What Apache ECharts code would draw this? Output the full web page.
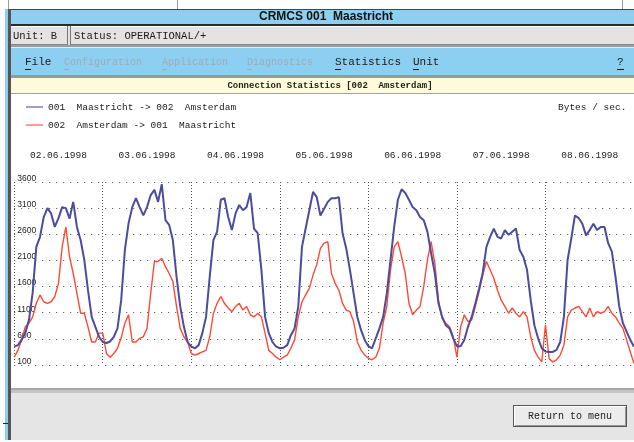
<!DOCTYPE html>
<html>
<head>
<meta charset="utf-8">
<script src="https://cdn.jsdelivr.net/npm/echarts@6/dist/echarts.min.js"></script>
<style>
  html, body { margin: 0; padding: 0; background: #fff; }
  #chart { width: 634px; height: 442px; }
</style>
</head>
<body>
<div id="chart"></div>
<script>
// dates shown above the plot, one per day
const days = ['02.06.1998', '03.06.1998', '04.06.1998', '05.06.1998', '06.06.1998', '07.06.1998', '08.06.1998']
const yTicks = [100, 600, 1100, 1600, 2100, 2600, 3100, 3600]

// hourly readings, Bytes / sec. (hour 0 .. 168)
const maastrichtToAmsterdam = [
  450, 480, 580, 710, 960, 1480, 2360, 2550, 2930, 3100, 3000, 2740, 2910, 3120, 3100, 2900, 3220, 2740, 2490, 2110, 1530, 1020, 830, 640,
  540, 520, 550, 640, 800, 1340, 2300, 2810, 3120, 3290, 3120, 2960, 3120, 3350, 3450, 3220, 3560, 2870, 2780, 2490, 1790, 1220, 830, 540,
  450, 420, 480, 710, 1020, 1790, 2490, 2650, 3260, 3290, 2930, 2680, 3000, 3160, 3060, 3120, 3390, 2710, 2620, 1920, 1020, 710, 540, 450,
  420, 430, 480, 670, 800, 1220, 2360, 2710, 3060, 3410, 3310, 2960, 3090, 3220, 3290, 3290, 3310, 2620, 2330, 1920, 1470, 1020, 770, 580,
  460, 420, 610, 800, 1020, 1470, 2110, 2740, 3260, 3460, 3390, 3260, 3120, 3060, 2930, 2870, 2650, 2240, 1860, 1280, 1020, 860, 800, 610,
  460, 460, 580, 830, 1020, 1280, 1560, 1860, 2360, 2550, 2710, 2550, 2520, 2680, 2590, 2650, 2710, 2300, 2170, 1920, 1340, 860, 610, 420,
  360, 350, 350, 390, 540, 1020, 2110, 2520, 2960, 2910, 2800, 2580, 2680, 2800, 2680, 2740, 2740, 2430, 2270, 1780, 1220, 900, 740, 580, 450
]
const amsterdamToMaastricht = [
  250, 380, 580, 830, 900, 1020, 1280, 1440, 1310, 1280, 1310, 1410, 1660, 2360, 2740, 2170, 1850, 1470, 1090, 1090, 830, 540, 540, 710,
  710, 320, 250, 320, 420, 620, 900, 1060, 540, 540, 610, 640, 800, 1470, 2080, 2080, 2140, 1980, 1850, 1700, 1220, 800, 640, 540,
  320, 290, 320, 350, 380, 640, 1090, 1280, 1410, 1280, 1190, 1120, 1220, 1280, 1150, 1220, 1060, 1020, 1090, 1020, 710, 380, 320, 250,
  200, 250, 290, 420, 580, 1020, 1310, 1440, 1570, 1820, 2020, 2330, 2430, 2460, 1850, 1660, 1530, 1280, 1150, 1120, 930, 540, 390, 290,
  230, 200, 250, 420, 900, 1220, 1920, 2360, 2460, 2170, 1850, 1280, 1060, 1150, 1220, 1600, 2110, 2460, 2050, 1340, 990, 900, 830, 640,
  250, 830, 1060, 930, 960, 1220, 1500, 1820, 2080, 1920, 1760, 1530, 1340, 1220, 1090, 1190, 1090, 1020, 1120, 1020, 640, 380, 250, 160,
  870, 220, 160, 200, 290, 480, 1020, 1150, 1190, 1220, 1120, 1020, 1190, 1020, 1120, 1090, 1120, 1220, 1090, 1020, 900, 800, 580, 350, 130
]

const MONO = '"Liberation Mono", "DejaVu Sans Mono", monospace'
const SKY = '#8dcff0'
const GREYED = '#9cadb7'

const rect = (x, y, w, h, fill, z) => ({ type: 'rect', z: z || 0, silent: true, shape: { x: x, y: y, width: w, height: h }, style: { fill: fill } })
const label = (x, y, text, opts) => ({
  type: 'text', z: 5, silent: true, x: x, y: y,
  style: Object.assign({ text: text, font: '10px ' + MONO, fill: '#1a1a1a', verticalAlign: 'middle' }, opts || {})
})

// the window around the chart
const frame = [
  rect(8, 0, 1, 9, '#9a9a9a'), rect(177, 0, 1, 9, '#9a9a9a'), rect(622, 0, 1, 9, '#9a9a9a'),
  rect(5, 9, 3, 431, SKY), rect(8, 9, 3, 431, '#555'),
  // title bar
  rect(11, 9, 623, 16, SKY), rect(11, 9, 623, 1, '#444'), rect(11, 24, 623, 2, '#2a2a2a'),
  label(326, 17, 'CRMCS 001  Maastricht', { font: 'bold 12px "Liberation Sans", Arial, sans-serif', align: 'center', fill: '#111' }),
  // status bar
  rect(11, 26, 623, 19, '#e3e3e3'),
  rect(11, 26, 57, 1, '#fff'), rect(11, 44, 57, 1, '#888'), rect(67, 26, 1, 19, '#777'),
  rect(70, 26, 1, 19, '#777'), rect(71, 26, 563, 1, '#fff'), rect(71, 44, 563, 1, '#888'),
  label(13, 36, 'Unit: B', { font: '10.5px ' + MONO }), label(74, 36, 'Status: OPERATIONAL/+', { font: '10.5px ' + MONO }),
  // menu bar
  rect(11, 45, 623, 2, '#9c9c9c'), rect(11, 47, 623, 28, SKY), rect(11, 47, 623, 1, '#d8f0fc'),
  rect(11, 75, 623, 3, '#9a9a9a'),
  label(25, 62, 'File', { font: '11px ' + MONO }), rect(25, 69, 6, 1, '#1a1a1a'),
  label(64, 62, 'Configuration', { font: '10px ' + MONO, fill: GREYED }), rect(64, 69, 5, 1, GREYED),
  label(162, 62, 'Application', { font: '10px ' + MONO, fill: GREYED }), rect(162, 69, 5, 1, GREYED),
  label(247, 62, 'Diagnostics', { font: '10px ' + MONO, fill: GREYED }), rect(247, 69, 5, 1, GREYED),
  label(335, 62, 'Statistics', { font: '11px ' + MONO }), rect(335, 69, 6, 1, '#1a1a1a'),
  label(413, 62, 'Unit', { font: '11px ' + MONO }), rect(413, 69, 6, 1, '#1a1a1a'),
  label(617, 62, '?', { font: '11px ' + MONO }), rect(617, 69, 7, 1, '#1a1a1a'),
  // caption band
  rect(11, 78, 623, 16, '#fdfbd9'), rect(11, 93, 623, 1, '#a0a0a0'),
  label(330, 86, 'Connection Statistics [002  Amsterdam]', { font: 'bold 9px ' + MONO, align: 'center', fill: '#222' }),
  label(558, 107, 'Bytes / sec.', { font: '9.5px ' + MONO }),
  // bottom panel
  rect(11, 388, 623, 2, '#a8a8a8'), rect(11, 390, 623, 3, '#c4c4c4'), rect(11, 393, 623, 47, '#e5e5e5'),
  rect(0, 440, 634, 2, '#fafafa'), rect(3, 423, 5, 1, '#222'),
  // button
  rect(513, 405, 114, 22, '#555'), rect(514, 406, 112, 20, '#fff'), rect(515, 407, 111, 19, '#9a9a9a'),
  rect(515, 407, 110, 18, '#ececec'),
  label(570, 416, 'Return to menu', { font: '10px ' + MONO, align: 'center', fill: '#222' })
]

const chart = echarts.init(document.getElementById('chart'), null, { renderer: 'canvas' })

const lineIcon = 'path://M0,4.5L17,4.5L17,5.5L0,5.5Z'

const option = {
  backgroundColor: '#fff',
  animation: false,
  graphic: { elements: frame },
  legend: {
    orient: 'vertical',
    left: 21,
    top: 97,
    itemWidth: 17,
    itemHeight: 10,
    itemGap: 8,
    itemStyle: { borderWidth: 0 },
    textStyle: { fontFamily: MONO, fontSize: 9.5, color: '#1a1a1a' },
    data: [
      { name: '001  Maastricht -> 002  Amsterdam', itemStyle: { color: '#3e3f94' }, icon: lineIcon },
      { name: '002  Amsterdam -> 001  Maastricht', itemStyle: { color: '#ff3a28' }, icon: lineIcon }
    ]
  },
  grid: { left: 14.2, top: 182, width: 621.6, height: 183, containLabel: false },
  xAxis: [
    {
      type: 'value',
      min: 0,
      max: 168,
      interval: 24,
      axisLine: { show: false },
      axisTick: { show: false },
      axisLabel: { show: false },
      splitLine: { show: true, lineStyle: { type: [1, 2], color: '#555', width: 1 } }
    },
    {
      type: 'category',
      position: 'top',
      data: days,
      boundaryGap: true,
      axisLine: { show: false },
      axisTick: { show: false },
      splitLine: { show: false },
      axisLabel: { margin: 22, fontFamily: MONO, fontSize: 9.5, color: '#1a1a1a' }
    }
  ],
  yAxis: {
    type: 'value',
    min: 100,
    max: 3600,
    axisLine: { show: false },
    axisTick: { show: false, customValues: yTicks },
    axisLabel: {
      customValues: yTicks,
      formatter: v => String(v),
      inside: true,
      margin: 3,
      verticalAlign: 'bottom',
      fontFamily: '"Liberation Sans", Arial, sans-serif',
      fontSize: 8.5,
      color: '#222',
      backgroundColor: '#fff',
      padding: [0, 1, -1, 0]
    },
    splitLine: { show: true, lineStyle: { type: [1, 6], color: '#444', width: 1 } }
  },
  series: [
    {
      name: '002  Amsterdam -> 001  Maastricht',
      type: 'line',
      data: amsterdamToMaastricht.map((v, i) => [i, v]),
      symbol: 'none',
      z: 3,
      lineStyle: { color: '#ff4a36', width: 1.4 },
      itemStyle: { color: '#ff4a36' }
    },
    {
      name: '001  Maastricht -> 002  Amsterdam',
      type: 'line',
      data: maastrichtToAmsterdam.map((v, i) => [i, v]),
      symbol: 'none',
      z: 4,
      lineStyle: { color: '#4b4c9c', width: 2 },
      itemStyle: { color: '#4b4c9c' }
    }
  ]
}

chart.setOption(option)
</script>
</body>
</html>
